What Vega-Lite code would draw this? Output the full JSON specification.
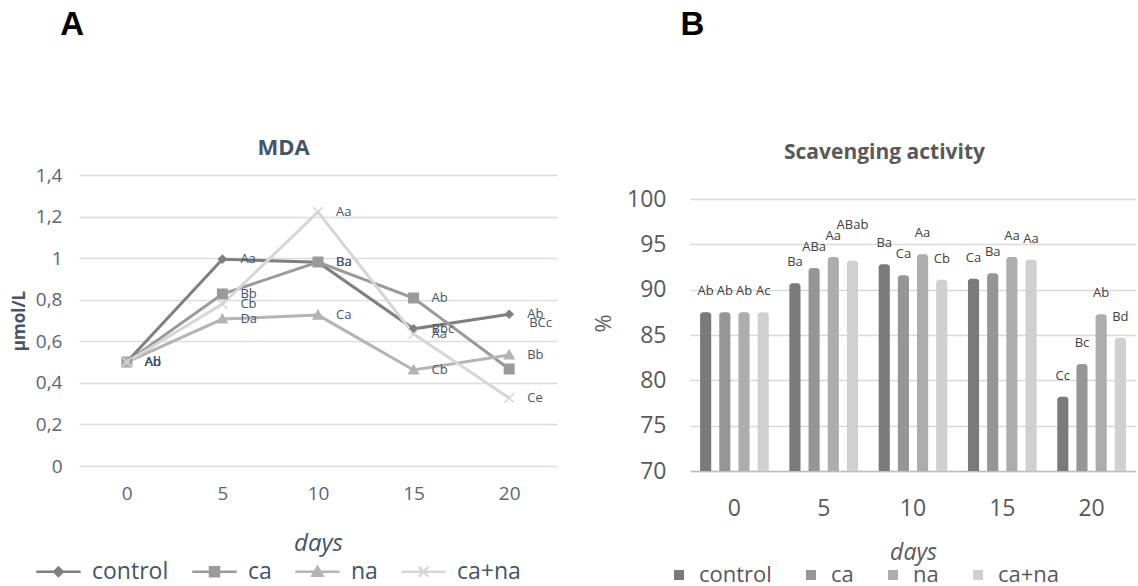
{
  "$schema": "https://vega.github.io/schema/vega-lite/v6.json",
  "padding": {"left": 10, "top": 9, "right": 0, "bottom": 0},
  "spacing": 35,
  "datasets": {
    "mda": [
      {"day": 0, "series": "control", "value": 0.5, "label": "Ab"},
      {"day": 5, "series": "control", "value": 0.995, "label": "Aa"},
      {"day": 10, "series": "control", "value": 0.98, "label": "Ba"},
      {"day": 15, "series": "control", "value": 0.66, "label": "Bbc"},
      {"day": 20, "series": "control", "value": 0.73, "label": "Ab"},
      {"day": 0, "series": "ca", "value": 0.5, "label": "Ab"},
      {"day": 5, "series": "ca", "value": 0.827, "label": "Bb"},
      {"day": 10, "series": "ca", "value": 0.981, "label": "Ba"},
      {"day": 15, "series": "ca", "value": 0.808, "label": "Ab"},
      {"day": 20, "series": "ca", "value": 0.467, "label": "BCc"},
      {"day": 0, "series": "na", "value": 0.5, "label": "Ab"},
      {"day": 5, "series": "na", "value": 0.707, "label": "Da"},
      {"day": 10, "series": "na", "value": 0.726, "label": "Ca"},
      {"day": 15, "series": "na", "value": 0.462, "label": "Cb"},
      {"day": 20, "series": "na", "value": 0.534, "label": "Bb"},
      {"day": 0, "series": "ca+na", "value": 0.5, "label": "Ad"},
      {"day": 5, "series": "ca+na", "value": 0.779, "label": "Cb"},
      {"day": 10, "series": "ca+na", "value": 1.222, "label": "Aa"},
      {"day": 15, "series": "ca+na", "value": 0.635, "label": "Aa"},
      {"day": 20, "series": "ca+na", "value": 0.327, "label": "Ce"}
    ],
    "scav": [
      {"day": 0, "series": "control", "value": 87.5, "label": "Ab"},
      {"day": 0, "series": "ca", "value": 87.5, "label": "Ab"},
      {"day": 0, "series": "na", "value": 87.5, "label": "Ab"},
      {"day": 0, "series": "ca+na", "value": 87.5, "label": "Ac"},
      {"day": 5, "series": "control", "value": 90.7, "label": "Ba"},
      {"day": 5, "series": "ca", "value": 92.4, "label": "ABa"},
      {"day": 5, "series": "na", "value": 93.6, "label": "Aa"},
      {"day": 5, "series": "ca+na", "value": 93.2, "label": "ABab"},
      {"day": 10, "series": "control", "value": 92.8, "label": "Ba"},
      {"day": 10, "series": "ca", "value": 91.6, "label": "Ca"},
      {"day": 10, "series": "na", "value": 93.9, "label": "Aa"},
      {"day": 10, "series": "ca+na", "value": 91.1, "label": "Cb"},
      {"day": 15, "series": "control", "value": 91.2, "label": "Ca"},
      {"day": 15, "series": "ca", "value": 91.8, "label": "Ba"},
      {"day": 15, "series": "na", "value": 93.6, "label": "Aa"},
      {"day": 15, "series": "ca+na", "value": 93.3, "label": "Aa"},
      {"day": 20, "series": "control", "value": 78.2, "label": "Cc"},
      {"day": 20, "series": "ca", "value": 81.8, "label": "Bc"},
      {"day": 20, "series": "na", "value": 87.3, "label": "Ab"},
      {"day": 20, "series": "ca+na", "value": 84.7, "label": "Bd"}
    ]
  },
  "resolve": {"scale": {"color": "independent"}, "legend": {"color": "independent"}},
  "hconcat": [
    {
      "title": {"text": "A", "anchor": "start", "dx": 50, "offset": 94, "fontSize": 33, "fontWeight": "bold", "color": "#000000", "font": "Liberation Sans"},
      "vconcat": [
        {
          "width": 478,
          "height": 291,
          "data": {"name": "mda"},
          "encoding": {
            "y": {
              "field": "value", "type": "quantitative",
              "scale": {"domain": [0, 1.4], "nice": false},
              "axis": {"title": "µmol/L", "values": [0, 0.2, 0.4, 0.6, 0.8, 1, 1.2, 1.4],
                "labelExpr": "replace(format(datum.value, '.1~f'), '.', ',')",
                "domain": false, "ticks": false, "gridColor": "#d9dee6", "gridWidth": 1.5,
                "labelFontSize": 19, "labelColor": "#5b6578", "labelPadding": 17,
                "titleFontSize": 17, "titleFontWeight": "bold", "titleColor": "#44546a", "titlePadding": 7}
            }
          },
          "layer": [
            {
              "encoding": {
                "x": {
                  "field": "day", "type": "ordinal",
                  "scale": {"padding": 0.5},
                  "axis": {"orient": "bottom", "title": "days", "labelAngle": 0, "domain": false, "ticks": false, "grid": false,
                    "labelFontSize": 19, "labelColor": "#5b6578", "labelPadding": 18,
                    "titleFontSize": 24, "titleFontStyle": "italic", "titleFontWeight": "normal", "titleColor": "#44546a", "titlePadding": 28}
                }
              },
              "layer": [
                {
                  "mark": {"type": "line", "strokeWidth": 3},
                  "encoding": {
                    "color": {
                      "field": "series", "type": "nominal",
                      "scale": {"domain": ["control", "ca", "na", "ca+na"], "range": ["#7f7f7f", "#9a9a9a", "#b4b4b4", "#d6d6d6"]},
                      "legend": {
                        "title": null, "orient": "bottom", "direction": "horizontal", "offset": 5,
                        "labelFontSize": 23, "labelColor": "#44546a", "labelOffset": 22, "columnPadding": 18,
                        "symbolSize": 144,
                        "encode": {
                          "symbols": {
                            "update": {
                              "shape": {"signal": "datum.value == 'control' ? 'M-3.7,0H3.7M0,-0.7L0.7,0L0,0.7L-0.7,0Z' : datum.value == 'ca' ? 'M-3.7,0H3.7M-0.75,-0.75H0.75V0.75H-0.75Z' : datum.value == 'na' ? 'M-3.7,0H3.7M0,-0.8L0.85,0.65H-0.85Z' : 'M-3.7,0H3.7M-0.8,-0.8L0.8,0.8M-0.8,0.8L0.8,-0.8'"},
                              "fill": {"scale": "color", "field": "value"},
                              "stroke": {"scale": "color", "field": "value"},
                              "strokeWidth": {"value": 2.5},
                              "opacity": {"value": 1}
                            }
                          }
                        }
                      }
                    }
                  }
                },
                {
                  "mark": {"type": "point", "filled": true, "opacity": 1, "size": 90, "strokeWidth": 1.5},
                  "encoding": {
                    "color": {"field": "series", "type": "nominal", "legend": null},
                    "stroke": {"field": "series", "type": "nominal", "legend": null,
                      "scale": {"domain": ["control", "ca", "na", "ca+na"], "range": ["#7f7f7f", "#9a9a9a", "#b4b4b4", "#d6d6d6"]}},
                    "shape": {"field": "series", "type": "nominal", "legend": null,
                      "scale": {"domain": ["control", "ca", "na", "ca+na"], "range": ["M0,-0.8L0.8,0L0,0.8L-0.8,0Z", "square", "M0,-1L1,0.8H-1Z", "M-1,-1L1,1M-1,1L1,-1"]}}
                  }
                },
                {
                  "transform": [{"filter": "!(datum.series == 'ca' && datum.day == 20)"}],
                  "mark": {"type": "text", "align": "left", "baseline": "middle", "dx": 18, "fontSize": 13, "color": "#44546a", "font": "Open Sans"},
                  "encoding": {"text": {"field": "label"}}
                }
              ]
            },
            {
              "transform": [{"filter": "datum.series == 'ca' && datum.day == 20"}],
              "mark": {"type": "text", "align": "left", "baseline": "middle", "dx": 20, "dy": -46, "fontSize": 13, "color": "#44546a", "font": "Open Sans"},
              "encoding": {
                "text": {"field": "label"},
                "x": {"field": "day", "type": "ordinal",
                  "axis": {"orient": "top", "title": "MDA", "labels": false, "ticks": false, "domain": false, "grid": false,
                    "titleFontSize": 22, "titleFontWeight": "bold", "titleColor": "#44546a", "titlePadding": 16, "titleX": 204}}
              }
            }
          ],
          "resolve": {"axis": {"x": "independent"}}
        }
      ]
    },
    {
      "title": {"text": "B", "anchor": "start", "dx": 88, "offset": 99, "fontSize": 33, "fontWeight": "bold", "color": "#000000", "font": "Liberation Sans"},
      "vconcat": [
        {
          "width": 446,
          "height": 296,
          "data": {"name": "scav"},
          "encoding": {
            "xOffset": {"field": "series", "type": "nominal", "sort": ["control", "ca", "na", "ca+na"],
              "scale": {"domain": ["control", "ca", "na", "ca+na"], "paddingInner": 0.42, "paddingOuter": 0.2}},
            "y": {
              "field": "value", "type": "quantitative",
              "scale": {"domain": [70, 102.65], "nice": false, "zero": false},
              "axis": {"title": "%", "values": [70, 75, 80, 85, 90, 95, 100],
                "domain": false, "ticks": false, "gridColor": "#d9d9d9", "gridWidth": 1.5,
                "labelFontSize": 23, "labelColor": "#595959", "labelPadding": 24,
                "titleFontSize": 22, "titleFontWeight": "normal", "titleColor": "#595959", "titlePadding": 11}
            }
          },
          "layer": [
            {
              "encoding": {
                "x": {
                  "field": "day", "type": "ordinal",
                  "scale": {"paddingInner": 0.145, "paddingOuter": 0.07},
                  "axis": {"orient": "bottom", "title": "days", "labelAngle": 0, "domain": true, "domainColor": "#bfbfbf", "domainWidth": 1.5, "ticks": false, "grid": false,
                    "labelFontSize": 23, "labelColor": "#595959", "labelPadding": 26,
                    "titleFontSize": 23, "titleFontStyle": "italic", "titleFontWeight": "normal", "titleColor": "#595959", "titlePadding": 21}
                }
              },
              "layer": [
                {
                  "mark": {"type": "bar", "cornerRadiusTopLeft": 3, "cornerRadiusTopRight": 3},
                  "encoding": {
                    "y2": {"datum": 70},
                    "color": {
                      "field": "series", "type": "nominal",
                      "scale": {"domain": ["control", "ca", "na", "ca+na"], "range": ["#7a7a7a", "#969696", "#adadad", "#d0d0d0"]},
                      "legend": {"title": null, "orient": "bottom", "direction": "horizontal", "offset": 0,
                        "symbolType": "square", "symbolSize": 100, "labelFontSize": 22, "labelColor": "#595959",
                        "labelOffset": 9, "columnPadding": 28}
                    }
                  }
                },
                {
                  "transform": [{"filter": "datum.label != 'ABab'"}],
                  "mark": {"type": "text", "baseline": "middle", "dy": -21, "fontSize": 13, "color": "#404040", "font": "Open Sans"},
                  "encoding": {"text": {"field": "label"}}
                }
              ]
            },
            {
              "transform": [{"filter": "datum.label == 'ABab'"}],
              "mark": {"type": "text", "baseline": "middle", "dy": -36, "fontSize": 13, "color": "#404040", "font": "Open Sans"},
              "encoding": {
                "text": {"field": "label"},
                "x": {"field": "day", "type": "ordinal",
                  "axis": {"orient": "top", "title": "Scavenging activity", "labels": false, "ticks": false, "domain": false, "grid": false,
                    "titleFontSize": 21, "titleFontWeight": "bold", "titleColor": "#595959", "titlePadding": 13, "titleX": 194}}
              }
            }
          ],
          "resolve": {"axis": {"x": "independent"}}
        }
      ]
    }
  ],
  "config": {
    "view": {"stroke": null},
    "font": "Open Sans",
    "axis": {"labelFont": "Open Sans", "titleFont": "Open Sans"},
    "legend": {"labelFont": "Open Sans", "layout": {"bottom": {"anchor": "middle"}}}
  }
}
